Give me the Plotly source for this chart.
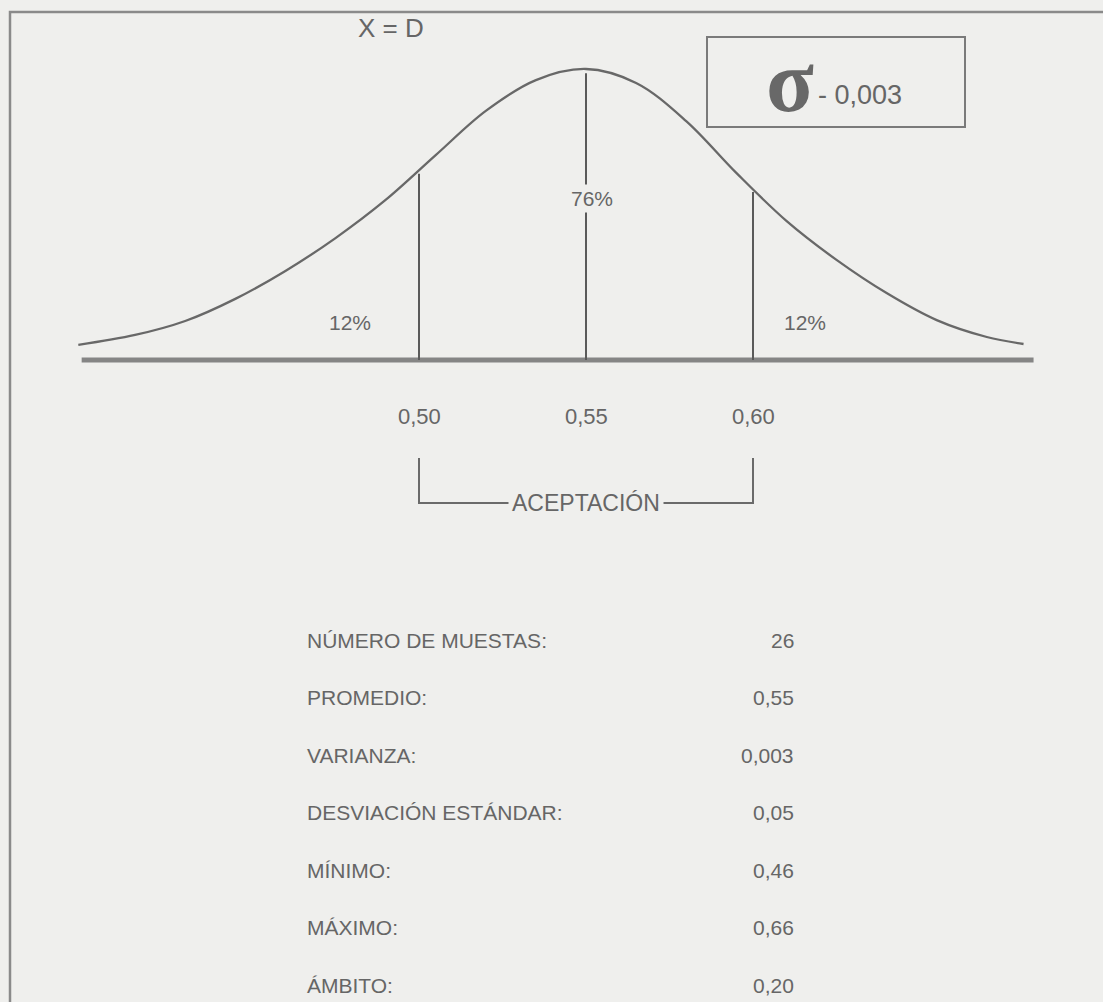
import plotly.graph_objects as go

# normal curve as drawn (x in data units, y = relative height, peak = 1)
curve_x = [0.398, 0.415, 0.430, 0.445, 0.460, 0.475, 0.490, 0.505, 0.520, 0.535,
           0.550, 0.565, 0.580, 0.595, 0.610, 0.625, 0.640, 0.655, 0.670, 0.681]
curve_y = [0.052, 0.086, 0.134, 0.210, 0.306, 0.419, 0.550, 0.704, 0.856, 0.962,
           1.000, 0.952, 0.821, 0.643, 0.478, 0.344, 0.230, 0.137, 0.079, 0.055]

limit_x = [0.50, 0.55, 0.60]
limit_top = [0.64, 0.985, 0.577]
tick_text = ["0,50", "0,55", "0,60"]
axis_ends = [0.399, 0.684]

pct_text = ["12%", "76%", "12%"]
mean_label = "X = D"
sigma_label = "- 0,003"
accept_label = "ACEPTACIÓN"

stat_labels = ["NÚMERO DE MUESTAS:", "PROMEDIO:", "VARIANZA:", "DESVIACIÓN ESTÁNDAR:",
               "MÍNIMO:", "MÁXIMO:", "ÁMBITO:"]
stat_values = ["26", "0,55", "0,003", "0,05", "0,46", "0,66", "0,20"]

W, H = 1103, 1002
BG = "#efefed"
INK = "#666666"
FONT = "Liberation Sans, Arial, sans-serif"

# page geometry: data 0.55 sits at px 586, baseline at px 360
X_PX, X_C, X_UNIT = 586, 0.55, 3340
Y_PX, Y_UNIT = 360, 291
x_range = [X_C - X_PX / X_UNIT, X_C + (W - X_PX) / X_UNIT]
y_range = [-(H - Y_PX) / Y_UNIT, Y_PX / Y_UNIT]


def px(x):
    return x / W


def py(y):
    return 1 - y / H


def label(x, y, text, size, xanchor="center", ref="paper", family=FONT, color=INK, **kw):
    return dict(x=x, y=y, xref=ref if ref == "paper" else "x", yref=ref if ref == "paper" else "y",
                text=text, showarrow=False, xanchor=xanchor, yanchor="middle",
                font=dict(size=size, color=color, family=family), **kw)


fig = go.Figure()

# baseline
fig.add_trace(go.Scatter(x=axis_ends, y=[0, 0], mode="lines",
                         line=dict(color="#858585", width=5), hoverinfo="skip"))
# curve
fig.add_trace(go.Scatter(x=curve_x, y=curve_y, mode="lines",
                         line=dict(color="#686868", width=2.3, shape="spline"),
                         hoverinfo="skip"))
# limit lines
for xv, top in zip(limit_x, limit_top):
    fig.add_trace(go.Scatter(x=[xv, xv], y=[0, top], mode="lines",
                             line=dict(color="#5a5a5a", width=2), hoverinfo="skip"))

# acceptance bracket
br_top, br_bot = -(458 - Y_PX) / Y_UNIT, -(503 - Y_PX) / Y_UNIT
fig.add_trace(go.Scatter(x=[limit_x[0], limit_x[0], limit_x[2], limit_x[2]],
                         y=[br_top, br_bot, br_bot, br_top], mode="lines",
                         line=dict(color="#6a6a6a", width=2), hoverinfo="skip"))

ann = []
for xv, t in zip(limit_x, tick_text):
    ann.append(label(xv, -(416 - Y_PX) / Y_UNIT, t, 22, ref="data"))
ann.append(label(limit_x[1], br_bot, accept_label, 23, ref="data", bgcolor=BG, borderpad=3))

for (xp, yp), t in zip([(350, 322), (592, 198), (805, 323)], pct_text):
    ann.append(label(px(xp), py(yp), t, 21, bgcolor=BG, borderpad=2))

ann.append(label(px(391), py(28), mean_label, 26))
ann.append(label(px(790), py(82), "<b>σ</b>", 88, color="#686868",
                 family="Liberation Serif, Times New Roman, serif"))
ann.append(label(px(816), py(95), sigma_label, 27, xanchor="left"))

row_y0, row_dy = 640, 57.5
for i, (lab, val) in enumerate(zip(stat_labels, stat_values)):
    yy = py(row_y0 + i * row_dy)
    ann.append(label(px(305), yy, lab, 21, xanchor="left"))
    ann.append(label(px(796), yy, val, 21, xanchor="right"))

shapes = [
    # outer frame
    dict(type="rect", xref="paper", yref="paper", x0=px(10), y0=py(12), x1=1.02, y1=-0.02,
         line=dict(color="#8a8a8a", width=2.5)),
    # sigma box
    dict(type="rect", xref="paper", yref="paper", x0=px(707), y0=py(37), x1=px(965), y1=py(127),
         line=dict(color="#7a7a7a", width=2)),
]

fig.update_layout(
    width=W,
    height=H,
    margin=dict(l=0, r=0, t=0, b=0),
    paper_bgcolor=BG,
    plot_bgcolor=BG,
    showlegend=False,
    xaxis=dict(range=x_range, visible=False, fixedrange=True),
    yaxis=dict(range=y_range, visible=False, fixedrange=True),
    annotations=ann,
    shapes=shapes,
)

fig.write_html("out.html", config={"displayModeBar": False},
               post_script="document.body.style.margin='0';")
